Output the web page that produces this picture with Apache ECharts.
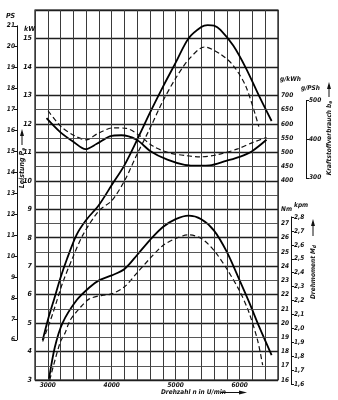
<!DOCTYPE html>
<html><head><meta charset="utf-8">
<script src="https://cdn.jsdelivr.net/npm/echarts@6/dist/echarts.min.js"></script>
<style>html,body{margin:0;padding:0;background:#fff}#c{width:338px;height:400px}</style>
</head><body><div id="c"></div>
<script>
// ---- data (rpm in U/min) ----
const xTickLabels = [3000, 4000, 5000, 6000];
const kWLabels = [3,4,5,6,7,8,9,10,11,12,13,14,15];
const psLabels = [6,7,8,9,10,11,12,13,14,15,16,17,18,19,20,21];
const gkWhLabels = [400,450,500,550,600,650,700];
const gPShLabels = [300,400,500];
const nmLabels = [16,17,18,19,20,21,22,23,24,25,26,27];
const kpmLabels = [1.6,1.7,1.8,1.9,2.0,2.1,2.2,2.3,2.4,2.5,2.6,2.7,2.8];
const halfLines = [3.5,4.5,5.5,6.5,7.5,8.5,9.5,10.5,11.5,12.5];

// Leistung P_e (kW)
const powerSolidRpm = [2920,3000,3100,3200,3300,3450,3600,3800,4000,4200,4400,4600,4800,5000,5200,5400,5500,5600,5700,5900,6100,6300,6500];
const powerSolid    = [4.4, 5.1, 5.85,6.6, 7.25,8.1, 8.62,9.15,9.85,10.55,11.45,12.4,13.3,14.15,15.0,15.4,15.47,15.45,15.3,14.75,13.95,13.0,12.1];
const powerDashedRpm = [2920,3080,3230,3390,3550,3800,4000,4200,4400,4600,4800,5000,5200,5450,5700,5900,6100,6300];
const powerDashed    = [4.35,5.35,6.4, 7.3, 8.1, 8.95,9.3, 10.0,10.95,11.85,12.8,13.6,14.25,14.7,14.45,14.05,13.3,11.9];

// Drehmoment M_d (Nm)
const torqueSolidRpm = [3020,3110,3230,3450,3650,3800,4000,4200,4400,4600,4800,5000,5200,5400,5600,5800,6000,6150,6300,6500];
const torqueSolid    = [16.1,18.3,20.0,21.6,22.5,23.0,23.35,23.8,24.8,25.85,26.75,27.3,27.55,27.3,26.5,25.0,23.0,21.45,19.8,17.75];
const torqueDashedRpm = [3030,3190,3270,3350,3500,3650,3850,4000,4200,4400,4600,4800,5000,5200,5400,5600,5800,6000,6150,6280,6360];
const torqueDashed    = [16.0,18.6,19.3,20.2,21.05,21.7,21.95,22.05,22.55,23.55,24.55,25.45,25.95,26.2,25.95,25.1,23.8,22.25,20.7,18.8,17.05];

// Kraftstoffverbrauch b_e (g/kWh)
const fuelSolidRpm = [2980,3190,3400,3590,3760,3970,4150,4390,4600,4870,5140,5380,5530,5790,6000,6200,6420];
const fuelSolid    = [620, 572, 537, 511, 529, 556, 560, 544, 505, 474, 456, 453, 454, 470, 484, 505, 544];
const fuelDashedRpm = [3005,3210,3420,3600,3790,4020,4230,4440,4650,4900,5170,5380,5660,5970,6210,6420];
const fuelDashed    = [646, 590, 558, 544, 567, 586, 584, 558, 521, 498, 488, 484, 492, 512, 535, 552];

// ---- chart ----
const FF = "'Liberation Sans Narrow','DejaVu Sans Condensed','Liberation Sans',sans-serif";
const lab = {fontFamily: FF, fontStyle: 'italic', fontWeight: 'bold', fontSize: 7, color: '#111'};
const pairs = (xs, ys) => xs.map((x, i) => [x, ys[i]]);
const inList = (list, v) => list.some(t => Math.abs(t - v) < 1e-6);

const chart = echarts.init(document.getElementById('c'), null, {renderer: 'canvas'});

function curve(name, xs, ys, yIdx, dashed) {
  return {
    name, type: 'line', xAxisIndex: 0, yAxisIndex: yIdx, data: pairs(xs, ys),
    smooth: 0.3, symbol: 'none', silent: true,
    lineStyle: dashed ? {color: '#111', width: 1.2, type: [5, 3]} : {color: '#000', width: 1.8}
  };
}

const option = {
  animation: false,
  backgroundColor: '#fff',
  grid: [
    {left: 35, right: 60, top: 10, bottom: 20, show: true, borderColor: '#111', borderWidth: 1.2},
    {left: 17, width: 1, top: 25.8, height: 314},
    {left: 306, width: 1, top: 100.4, height: 77.4},
    {left: 291, width: 1, top: 216.9, height: 167.5}
  ],
  xAxis: [
    {gridIndex: 0, type: 'value', min: 2800, max: 6600, interval: 200,
     axisLine: {show: false}, axisTick: {show: false},
     splitLine: {show: true, lineStyle: {color: '#3a3a3a', width: 1}},
     axisLabel: Object.assign({}, lab, {margin: 2, fontSize: 6.5,
       formatter: v => inList(xTickLabels, v) ? String(v) : ''})},
    {gridIndex: 1, type: 'value', show: false, min: 0, max: 1},
    {gridIndex: 2, type: 'value', show: false, min: 0, max: 1},
    {gridIndex: 3, type: 'value', show: false, min: 0, max: 1}
  ],
  yAxis: [
    // kW
    {gridIndex: 0, type: 'value', min: 3, max: 16, interval: 1, position: 'left',
     axisLine: {show: false}, axisTick: {show: false},
     splitLine: {show: true, lineStyle: {color: '#1e1e1e', width: 1.4}},
     axisLabel: Object.assign({}, lab, {margin: 3,
       formatter: v => inList(kWLabels, v) ? String(v) : ''})},
    // g/kWh  (400 at 10 kW, 700 at 13 kW)
    {gridIndex: 0, type: 'value', min: -300, max: 1000, interval: 50, position: 'right',
     axisLine: {show: false}, axisTick: {show: false}, splitLine: {show: false},
     axisLabel: Object.assign({}, lab, {margin: 3, fontSize: 6.5,
       formatter: v => inList(gkWhLabels, v) ? String(v) : ''})},
    // Nm (16 at 3 kW, 2 Nm per kW)
    {gridIndex: 0, type: 'value', min: 16, max: 42, interval: 1, position: 'right',
     axisLine: {show: false}, axisTick: {show: false}, splitLine: {show: false},
     axisLabel: Object.assign({}, lab, {margin: 3, fontSize: 6.5,
       formatter: v => inList(nmLabels, v) ? String(v) : ''})},
    // PS
    {gridIndex: 1, type: 'value', min: 6, max: 21, interval: 1, position: 'left',
     axisLine: {show: true, lineStyle: {color: '#111', width: 1}},
     axisTick: {show: true, length: 3, lineStyle: {color: '#111'}},
     splitLine: {show: false},
     axisLabel: Object.assign({}, lab, {margin: 2, fontSize: 6.5,
       formatter: v => inList(psLabels, v) ? String(v) : ''})},
    // g/PSh
    {gridIndex: 2, type: 'value', min: 300, max: 500, interval: 100, position: 'right',
     axisLine: {show: true, lineStyle: {color: '#111', width: 1}},
     axisTick: {show: true, length: 3, lineStyle: {color: '#111'}},
     splitLine: {show: false},
     axisLabel: Object.assign({}, lab, {margin: 2, fontSize: 6.5,
       formatter: v => inList(gPShLabels, v) ? String(v) : ''})},
    // kpm
    {gridIndex: 3, type: 'value', min: 1.6, max: 2.8, interval: 0.1, position: 'right',
     axisLine: {show: true, lineStyle: {color: '#111', width: 1}},
     axisTick: {show: true, length: 3, lineStyle: {color: '#111'}},
     splitLine: {show: false},
     axisLabel: Object.assign({}, lab, {margin: 2, fontSize: 6.5,
       formatter: v => inList(kpmLabels, v) ? v.toFixed(1).replace('.', ',') : ''})}
  ],
  series: [
    {type: 'line', xAxisIndex: 0, yAxisIndex: 0, data: [], silent: true,
     markLine: {silent: true, symbol: ['none', 'none'], label: {show: false},
       lineStyle: {color: '#444', width: 0.9, type: 'solid'},
       data: halfLines.map(v => ({yAxis: v}))}},
    curve('Leistung', powerSolidRpm, powerSolid, 0, false),
    curve('Leistung2', powerDashedRpm, powerDashed, 0, true),
    curve('Drehmoment', torqueSolidRpm, torqueSolid, 2, false),
    curve('Drehmoment2', torqueDashedRpm, torqueDashed, 2, true),
    curve('Verbrauch', fuelSolidRpm, fuelSolid, 1, false),
    curve('Verbrauch2', fuelDashedRpm, fuelDashed, 1, true)
  ],
  graphic: [
    {type: 'text', left: 6, top: 13, style: {text: 'PS', font: `italic bold 7px ${FF}`, fill: '#111'}},
    {type: 'text', left: 24, top: 26, style: {text: 'kW', font: `italic bold 7px ${FF}`, fill: '#111'}},
    {type: 'text', x: 22, y: 168, rotation: Math.PI / 2,
     style: {text: '{a|Leistung P}{b|e}', align: 'center', verticalAlign: 'middle',
       rich: {a: {font: `italic bold 7px ${FF}`, fill: '#111'}, b: {font: `italic bold 5px ${FF}`, fill: '#111', padding: [4, 0, 0, 0]}}}},
    {type: 'line', shape: {x1: 22, y1: 145, x2: 22, y2: 132}, style: {stroke: '#111', lineWidth: 1}},
    {type: 'polygon', shape: {points: [[20, 136], [24, 136], [22, 129]]}, style: {fill: '#111'}},

    {type: 'text', left: 280, top: 76, style: {text: 'g/kWh', font: `italic bold 6.5px ${FF}`, fill: '#111'}},
    {type: 'text', left: 301, top: 85, style: {text: 'g/PSh', font: `italic bold 6.5px ${FF}`, fill: '#111'}},
    {type: 'text', x: 329, y: 138, rotation: Math.PI / 2,
     style: {text: '{a|Kraftstoffverbrauch b}{b|e}', align: 'center', verticalAlign: 'middle',
       rich: {a: {font: `italic bold 6.5px ${FF}`, fill: '#111'}, b: {font: `italic bold 5px ${FF}`, fill: '#111', padding: [4, 0, 0, 0]}}}},
    {type: 'line', shape: {x1: 329, y1: 97, x2: 329, y2: 85}, style: {stroke: '#111', lineWidth: 1}},
    {type: 'polygon', shape: {points: [[327, 89], [331, 89], [329, 82]]}, style: {fill: '#111'}},

    {type: 'text', left: 281, top: 206, style: {text: 'Nm', font: `italic bold 6.5px ${FF}`, fill: '#111'}},
    {type: 'text', left: 294, top: 202, style: {text: 'kpm', font: `italic bold 6.5px ${FF}`, fill: '#111'}},
    {type: 'text', x: 313, y: 272, rotation: Math.PI / 2,
     style: {text: '{a|Drehmoment M}{b|d}', align: 'center', verticalAlign: 'middle',
       rich: {a: {font: `italic bold 6.5px ${FF}`, fill: '#111'}, b: {font: `italic bold 5px ${FF}`, fill: '#111', padding: [4, 0, 0, 0]}}}},
    {type: 'line', shape: {x1: 313, y1: 236, x2: 313, y2: 222}, style: {stroke: '#111', lineWidth: 1}},
    {type: 'polygon', shape: {points: [[311, 226], [315, 226], [313, 219]]}, style: {fill: '#111'}},

    {type: 'text', left: 161, top: 389, style: {text: 'Drehzahl n in U/min', font: `italic bold 6.5px ${FF}`, fill: '#111'}},
    {type: 'line', shape: {x1: 221, y1: 392.5, x2: 242, y2: 392.5}, style: {stroke: '#111', lineWidth: 1}},
    {type: 'polygon', shape: {points: [[239, 390.5], [239, 394.5], [247, 392.5]]}, style: {fill: '#111'}}
  ]
};
chart.setOption(option);
</script>
</body></html>
